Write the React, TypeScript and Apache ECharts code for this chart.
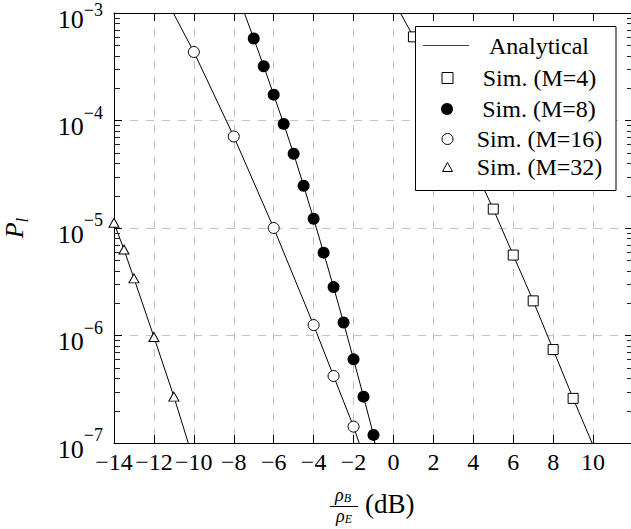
import React, { useEffect, useRef } from 'react';
import * as echarts from 'echarts';

const FONT = 'Liberation Serif';

// axis ranges / ticks
const xMin = -14;
const xMax = 12;
const xStep = 2;
const yMin = 1e-7;
const yMax = 1e-3;
const minorMantissas = [2, 3, 4, 5, 6, 7, 8, 9];
const minorDecades = [1e-7, 1e-6, 1e-5, 1e-4];

// legend names
const legendNames = ['Analytical', 'Sim. (M=4)', 'Sim. (M=8)', 'Sim. (M=16)', 'Sim. (M=32)'];

// simulation points
const m4SimX = [1, 5, 6, 7, 8, 9];
const m4SimY = [6.0e-4, 1.5e-5, 5.6e-6, 2.1e-6, 7.4e-7, 2.6e-7];
const m8SimX = [-7, -6.5, -6, -5.5, -5, -4.5, -4, -3.5, -3, -2.5, -2, -1.5, -1];
const m8SimY = [5.8e-4, 3.2e-4, 1.74e-4, 9.3e-5, 4.9e-5, 2.47e-5, 1.22e-5, 5.9e-6, 2.82e-6, 1.32e-6, 6.0e-7, 2.7e-7, 1.19e-7];
const m16SimX = [-10, -8, -6, -4, -3, -2];
const m16SimY = [4.34e-4, 7.1e-5, 1.0e-5, 1.25e-6, 4.2e-7, 1.42e-7];
const m32SimX = [-14, -13.5, -13, -12, -11];
const m32SimY = [1.12e-5, 6.3e-6, 3.4e-6, 9.7e-7, 2.7e-7];

// analytical curves
const m4AnaX = [0.35, 1, 5, 6, 7, 8, 9, 9.95];
const m4AnaY = [1e-3, 6.0e-4, 1.5e-5, 5.6e-6, 2.1e-6, 7.4e-7, 2.6e-7, 1e-7];
const m8AnaX = [-7.47, -7, -6.5, -6, -5.5, -5, -4.5, -4, -3.5, -3, -2.5, -2, -1.5, -1, -0.93];
const m8AnaY = [1e-3, 5.8e-4, 3.2e-4, 1.74e-4, 9.3e-5, 4.9e-5, 2.47e-5, 1.22e-5, 5.9e-6, 2.82e-6, 1.32e-6, 6.0e-7, 2.7e-7, 1.19e-7, 1e-7];
const m16AnaX = [-11.03, -10, -8, -6, -4, -3, -2, -1.72];
const m16AnaY = [1e-3, 4.34e-4, 7.1e-5, 1.0e-5, 1.25e-6, 4.2e-7, 1.42e-7, 1e-7];
const m32AnaX = [-14, -13.5, -13, -12, -11, -10.28];
const m32AnaY = [1.12e-5, 6.3e-6, 3.4e-6, 9.7e-7, 2.7e-7, 1e-7];

const zip = (xs: number[], ys: number[]) => xs.map((x, i) => [x, ys[i]]);
const minus = (n: number) => (n < 0 ? '\u2212' + Math.abs(n) : String(n));

export default function App() {
  const ref = useRef<HTMLDivElement>(null);

  useEffect(() => {
    if (!ref.current) return;
    const chart = echarts.init(ref.current, undefined, { renderer: 'svg' });

    const minorTicks: number[][] = [];
    minorDecades.forEach((d) => minorMantissas.forEach((m) => minorTicks.push([xMin, m * d])));

    const lineSeries = (data: number[][]) => ({
      type: 'line',
      name: 'Analytical',
      data,
      symbol: 'none',
      showSymbol: false,
      color: '#000',
      lineStyle: { color: '#000', width: 1 },
      itemStyle: { color: '#000' },
      clip: true,
      silent: true,
      z: 2,
    });

    const scatter = (name: string, data: number[][], symbol: string, size: any, fill: string, border: number) => ({
      type: 'scatter',
      name,
      data,
      symbol,
      symbolSize: size,
      itemStyle: { color: fill, borderColor: '#000', borderWidth: border, opacity: 1 },
      silent: true,
      z: 3,
    });

    const legendText = (w: number) => ({
      color: '#000',
      fontFamily: FONT,
      fontSize: 24,
      lineHeight: 24,
      rich: { t: { width: w, align: 'center', color: '#000', fontFamily: FONT, fontSize: 24, lineHeight: 24 } },
    });

    const legendBase = {
      orient: 'horizontal',
      padding: 0,
      selectedMode: false,
      z: 20,
      formatter: (n: string) => `{t|${n}}`,
    };

    const axisLine = { show: true, onZero: false, lineStyle: { color: '#000', width: 1 } };
    const axisTick = { show: true, inside: true, length: 8, lineStyle: { color: '#000' } };

    const option: any = {
      animation: false,
      backgroundColor: '#fff',
      textStyle: { fontFamily: FONT },
      grid: { left: 114, top: 13, height: 430, right: -2, containLabel: false, outerBoundsMode: 'none' },
      xAxis: [
        {
          type: 'value',
          min: xMin,
          max: xMax,
          interval: xStep,
          axisLine,
          axisTick,
          axisLabel: {
            show: true,
            margin: 7,
            color: '#000',
            fontFamily: FONT,
            fontSize: 24,
            lineHeight: 24,
            formatter: (v: number) => (v === xMax ? '' : minus(v)),
          },
          splitLine: { show: true, lineStyle: { color: '#c4c4c4', width: 1, type: [8, 8] } },
        },
        {
          type: 'value',
          position: 'top',
          min: xMin,
          max: xMax,
          interval: xStep,
          axisLine,
          axisTick,
          axisLabel: { show: false },
          splitLine: { show: false },
        },
      ],
      yAxis: [
        {
          type: 'log',
          logBase: 10,
          min: yMin,
          max: yMax,
          axisLine,
          axisTick,
          axisLabel: {
            margin: 11,
            color: '#000',
            padding: [2, 0, 0, 0],
            formatter: (v: number) => {
              const e = Math.round(Math.log10(v));
              const tok = v >= yMax * 0.999 ? 'et' : 'e';
              return `{b|10}{${tok}|${minus(e)}}`;
            },
            rich: {
              b: { fontSize: 26, lineHeight: 26, verticalAlign: 'bottom', fontFamily: FONT, color: '#000' },
              e: { fontSize: 18, lineHeight: 36, verticalAlign: 'top', fontFamily: FONT, color: '#000' },
              et: { fontSize: 18, lineHeight: 36, verticalAlign: 'top', padding: [5, 0, 0, 0], fontFamily: FONT, color: '#000' },
            },
          },
          splitLine: { show: true, lineStyle: { color: '#c4c4c4', width: 1, type: [8, 8] } },
          name: '{p|P}{s|l}',
          nameLocation: 'middle',
          nameRotate: 90,
          nameGap: 83,
          nameTextStyle: {
            rich: {
              p: { fontSize: 26, lineHeight: 30, fontStyle: 'italic', fontFamily: FONT, color: '#000', verticalAlign: 'top' },
              s: { fontSize: 17, lineHeight: 17, fontStyle: 'italic', fontFamily: FONT, color: '#000', verticalAlign: 'bottom' },
            },
          },
        },
        {
          type: 'log',
          logBase: 10,
          position: 'right',
          min: yMin,
          max: yMax,
          axisLine,
          axisTick,
          axisLabel: { show: false },
          splitLine: { show: false },
        },
      ],
      legend: [
        { ...legendBase, data: [{ name: legendNames[0], icon: 'rect' }], left: 423, top: 33.5, itemWidth: 46, itemHeight: 1, itemStyle: { color: '#444', borderWidth: 0 }, textStyle: legendText(130) },
        { ...legendBase, data: [legendNames[1]], left: 441.5, top: 66, itemWidth: 11, itemHeight: 11, itemStyle: { borderWidth: 1 }, textStyle: legendText(163) },
        { ...legendBase, data: [legendNames[2]], left: 441, top: 97, itemWidth: 12, itemHeight: 12, itemStyle: { borderWidth: 0 }, textStyle: legendText(162) },
        { ...legendBase, data: [legendNames[3]], left: 441.5, top: 127, itemWidth: 11, itemHeight: 11, itemStyle: { borderWidth: 1 }, textStyle: legendText(163) },
        { ...legendBase, data: [legendNames[4]], left: 442, top: 155, itemWidth: 10, itemHeight: 9, itemStyle: { borderWidth: 1 }, textStyle: legendText(164) },
      ],
      graphic: [
        {
          type: 'rect',
          z: 10,
          silent: true,
          shape: { x: 415.5, y: 26.5, width: 200.5, height: 164 },
          style: { fill: '#fff', stroke: '#000', lineWidth: 1 },
        },
        {
          type: 'text',
          silent: true,
          x: 343,
          y: 494.5,
          style: {
            text: '{r|\u03c1}{s|B}',
            align: 'center',
            verticalAlign: 'middle',
            rich: {
              r: { fontSize: 18, lineHeight: 18, fontStyle: 'italic', fontFamily: FONT, fill: '#000' },
              s: { fontSize: 12, lineHeight: 12, fontStyle: 'italic', fontFamily: FONT, fill: '#000', verticalAlign: 'bottom' },
            },
          },
        },
        {
          type: 'line',
          silent: true,
          shape: { x1: 330, y1: 506.5, x2: 358, y2: 506.5 },
          style: { stroke: '#000', lineWidth: 1 },
        },
        {
          type: 'text',
          silent: true,
          x: 344,
          y: 515.5,
          style: {
            text: '{r|\u03c1}{s|E}',
            align: 'center',
            verticalAlign: 'middle',
            rich: {
              r: { fontSize: 18, lineHeight: 18, fontStyle: 'italic', fontFamily: FONT, fill: '#000' },
              s: { fontSize: 12, lineHeight: 12, fontStyle: 'italic', fontFamily: FONT, fill: '#000', verticalAlign: 'bottom' },
            },
          },
        },
        {
          type: 'text',
          silent: true,
          x: 365,
          y: 504,
          style: { text: '(dB)', align: 'left', verticalAlign: 'middle', fontSize: 27, fontFamily: FONT, fill: '#000' },
        },
      ],
      series: [
        lineSeries(zip(m4AnaX, m4AnaY)),
        lineSeries(zip(m8AnaX, m8AnaY)),
        lineSeries(zip(m16AnaX, m16AnaY)),
        lineSeries(zip(m32AnaX, m32AnaY)),
        scatter(legendNames[1], zip(m4SimX, m4SimY), 'rect', 10, '#fff', 1),
        scatter(legendNames[2], zip(m8SimX, m8SimY), 'circle', 12, '#000', 0),
        scatter(legendNames[3], zip(m16SimX, m16SimY), 'circle', 11, '#fff', 1),
        scatter(legendNames[4], zip(m32SimX, m32SimY), 'triangle', [10, 9], '#fff', 1),
        {
          type: 'custom',
          name: 'minorTicks',
          silent: true,
          clip: false,
          z: 4,
          data: minorTicks,
          renderItem: (params: any, api: any) => {
            const cs = params.coordSys;
            const y = Math.round(api.coord([api.value(0), api.value(1)])[1]) + 0.5;
            return {
              type: 'group',
              children: [
                { type: 'line', shape: { x1: cs.x, y1: y, x2: cs.x + 6, y2: y }, style: { stroke: '#222', lineWidth: 1 } },
                { type: 'line', shape: { x1: cs.x + cs.width - 6, y1: y, x2: cs.x + cs.width, y2: y }, style: { stroke: '#222', lineWidth: 1 } },
              ],
            };
          },
        },
      ],
    };

    chart.setOption(option);
    return () => chart.dispose();
  }, []);

  return <div ref={ref} style={{ position: 'fixed', left: 0, top: 0, width: 631, height: 529 }} />;
}
